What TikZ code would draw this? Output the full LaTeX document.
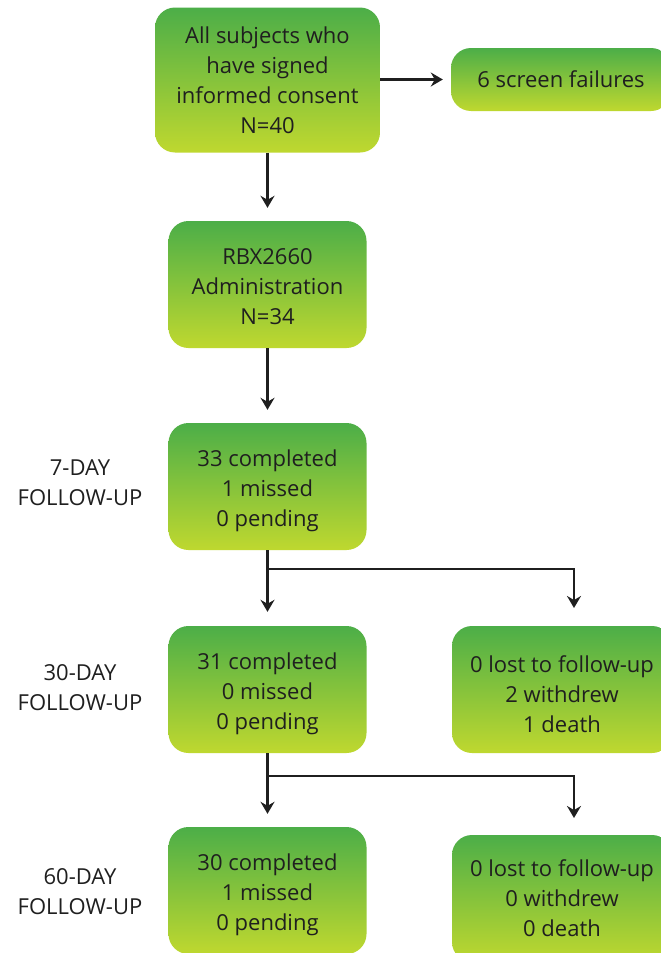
\documentclass[tikz,border=0pt]{standalone}
\usepackage{fontspec}
\setmainfont{Open Sans}
\usetikzlibrary{arrows.meta}
\definecolor{gtop}{HTML}{4CAE48}
\definecolor{gbot}{HTML}{BFD82F}
\definecolor{ink}{HTML}{1F1F1F}
\newcommand{\dn}{\rule{0pt}{26pt}}
\tikzset{
  box/.style={rounded corners=20pt, top color=gtop, bottom color=gbot, draw=none,
    align=center, text=ink, font=\fontsize{22}{30}\selectfont, inner sep=0pt},
  lbl/.style={align=center, text=ink, font=\fontsize{22}{30}\selectfont, inner sep=0pt},
  conn/.style={line width=2.6pt, draw=ink},
  arr/.style={conn, -{Stealth[length=12pt,width=14pt,inset=4pt]}},
}
\begin{document}
\begin{tikzpicture}[x=1pt,y=-1pt]
\clip (0,0) rectangle (661,953);
\fill[white] (0,0) rectangle (661,953);
\node[box, minimum width=225pt, minimum height=145pt] (b1) at (267.5,80) {All subjects who\\have signed\\informed consent\\N=40};
\node[box, minimum width=220pt, minimum height=63pt] (sf) at (561,79.5) {6 screen failures};
\node[box, minimum width=198pt, minimum height=127pt] (b2) at (267.5,284.5) {\rule{0pt}{20pt}RBX2660\\Administration\\N=34};
\node[box, minimum width=198pt, minimum height=127pt] (b3) at (267.5,486.5) {\dn 33 completed\\1 missed\\0 pending};
\node[box, minimum width=198pt, minimum height=127pt] (b4) at (267.5,689.5) {\dn 31 completed\\0 missed\\0 pending};
\node[box, minimum width=220pt, minimum height=127pt] (b5) at (562,689.5) {\dn 0 lost to follow-up\\2 withdrew\\1 death};
\node[box, minimum width=198pt, minimum height=127pt] (b6) at (267.5,890.5) {\dn 30 completed\\1 missed\\0 pending};
\node[box, minimum width=220pt, minimum height=127pt] (b7) at (562,898.5) {0 lost to follow-up\\0 withdrew\\0 death};
\node[lbl] (l1) at (80,483) {7-DAY\\FOLLOW-UP};
\node[lbl] (l2) at (80,687.5) {30-DAY\\FOLLOW-UP};
\node[lbl] (l3) at (80,892) {60-DAY\\FOLLOW-UP};
\coordinate (j1) at (267.5,569);
\coordinate (j2) at (267.5,776);
\coordinate (r1) at (574,608);
\coordinate (r2) at (574,818);
\draw[arr, shorten >=8pt] (b1.east |- sf.west) -- (sf.west);
\draw[arr, shorten >=13pt] (b1.south) -- (b2.north);
\draw[arr, shorten >=13pt] (b2.south) -- (b3.north);
\draw[arr, shorten >=14pt] (b3.south) -- (b4.north);
\draw[arr] (j1) -| (r1);
\draw[arr, shorten >=13pt] (b4.south) -- (b6.north);
\draw[arr] (j2) -| (r2);
\end{tikzpicture}
\end{document}
